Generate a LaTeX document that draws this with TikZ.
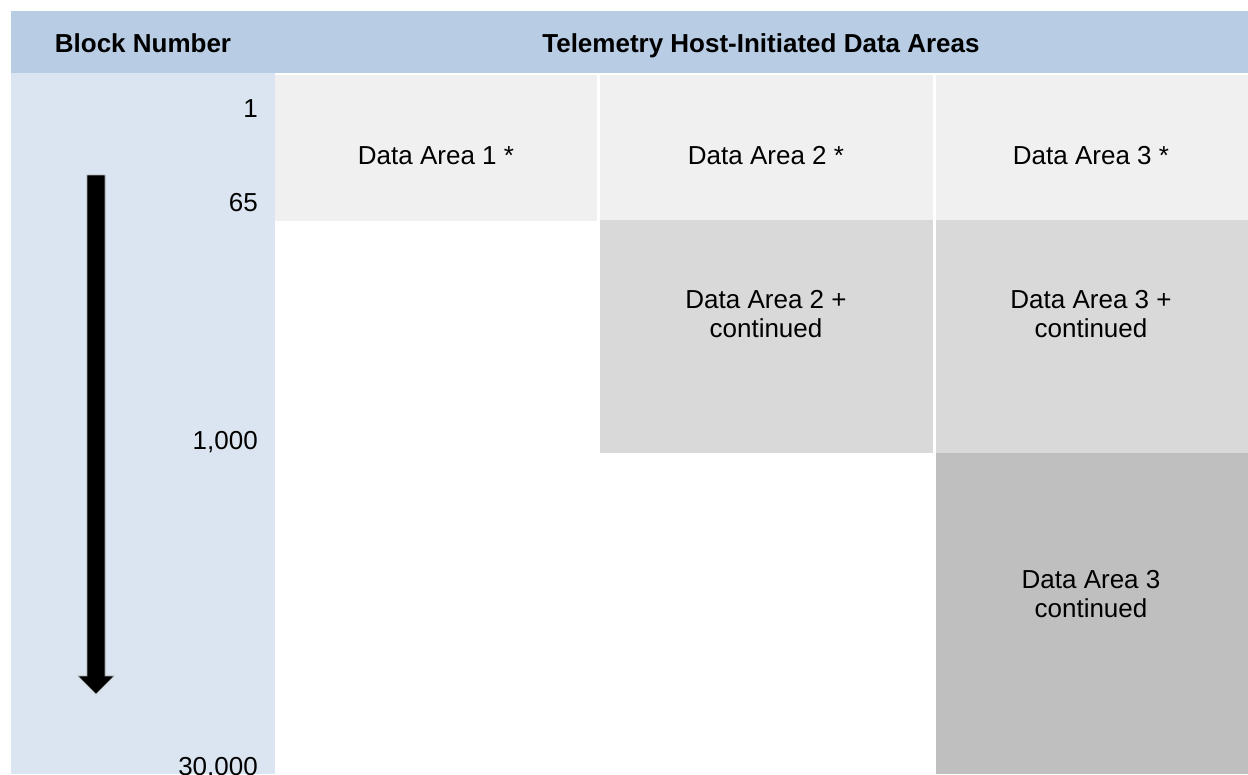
\documentclass[tikz,border=0pt]{standalone}
\usepackage{fontspec}
\setmainfont{Liberation Sans}
\definecolor{hdrblue}{HTML}{B8CCE4}
\definecolor{colblue}{HTML}{DBE5F1}
\definecolor{lightcell}{HTML}{F0F0F0}
\definecolor{midcell}{HTML}{D9D9D9}
\definecolor{darkcell}{HTML}{BFBFBF}
\begin{document}
\begin{tikzpicture}[x=1pt,y=-1pt,
  txt/.style={font=\fontsize{26}{29.5}\selectfont, align=center, inner sep=0pt},
  hdr/.style={font=\bfseries\fontsize{26}{29.5}\selectfont, inner sep=0pt, anchor=base},
  num/.style={font=\fontsize{26}{29.5}\selectfont, inner sep=0pt, anchor=base east}]
\clip (0,0) rectangle (1248,774);
\fill[white] (0,0) rectangle (1248,774);
% header band and block column
\fill[hdrblue] (11,11) rectangle (1248,73);
\fill[colblue] (11,73) rectangle (275,774);
% cells
\fill[lightcell] (275,75) rectangle (597,221);
\fill[lightcell] (600,75) rectangle (933,220);
\fill[midcell]   (600,220) rectangle (933,453);
\fill[lightcell] (936,75) rectangle (1248,220);
\fill[midcell]   (936,220) rectangle (1248,453);
\fill[darkcell]  (936,453) rectangle (1248,774);
% header texts
\node[hdr] (hblock) at (143,52) {Block Number};
\node[hdr] (harea) at (761,52) {Telemetry Host-Initiated Data Areas};
% block numbers
\node[num] (n1) at (258,117) {1};
\node[num] (n65) at (258,211) {65};
\node[num] (n1000) at (258,449) {1,000};
\node[num] (n30000) at (258,775) {30,000};
% arrow
\fill[black, draw=gray!70, line width=0.6pt] (87,175) -- (105,175) -- (105,676) -- (114,676) -- (96,694) -- (78,676) -- (87,676) -- cycle;
% cell texts
\node[txt] (d1) at (436,156) {Data Area 1 *};
\node[txt] (d2) at (766,156) {Data Area 2 *};
\node[txt] (d3) at (1091,156) {Data Area 3 *};
\node[txt] (d2c) at (766,314) {Data Area 2 +\\continued};
\node[txt] (d3c) at (1091,314) {Data Area 3 +\\continued};
\node[txt] (d3cc) at (1091,594) {Data Area 3\\continued};
\end{tikzpicture}
\end{document}
